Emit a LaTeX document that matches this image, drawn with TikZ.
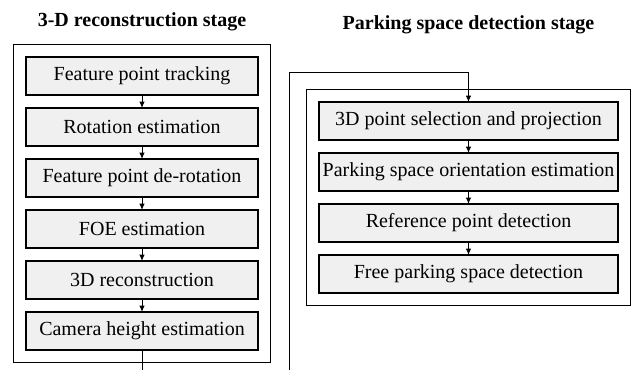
\documentclass[tikz,border=0pt]{standalone}
\usepackage{fontspec}
\setmainfont{Liberation Serif}
\usetikzlibrary{positioning, arrows.meta, fit}
\definecolor{CajaGris}{RGB}{240,240,240}

\begin{document}
\begin{tikzpicture}[
    x=1pt, y=-1pt,
    box/.style={draw, line width=1.2pt, fill=CajaGris, minimum height=38pt, inner sep=0pt, outer sep=0pt, font=\fontsize{20}{24}\selectfont},
    lbox/.style={box, minimum width=232pt},
    rbox/.style={box, minimum width=299pt},
    stage/.style={draw, line width=1.9pt, inner sep=12.5pt},
    titulo/.style={font=\bfseries\fontsize{20}{24}\selectfont},
    arr/.style={-{Latex[length=6.5pt,width=5.5pt]}, line width=1pt},
    node distance=13pt
]
    \useasboundingbox (0,0) rectangle (631,370);
    % titulos
    \node[titulo] (t3d) at (142,22) {3-D reconstruction stage};
    \node[titulo] (tpark) at (468.5,25) {Parking space detection stage};
    % etapa 3-D
    \node[lbox] (track) at (142,76) {Feature point tracking};
    \node[lbox, below=of track] (rot) {Rotation estimation};
    \node[lbox, below=of rot] (derot) {Feature point de-rotation};
    \node[lbox, below=of derot] (foe) {FOE estimation};
    \node[lbox, below=of foe] (recon) {3D reconstruction};
    \node[lbox, below=of recon] (cam) {Camera height estimation};
    \node[stage, fit=(track)(cam)] (etapa3d) {};
    % etapa de estacionamiento
    \node[rbox] (sel) at (468.5,121) {3D point selection and projection};
    \node[rbox, below=of sel] (orient) {Parking space orientation estimation};
    \node[rbox, below=of orient] (refp) {Reference point detection};
    \node[rbox, below=of refp] (free) {Free parking space detection};
    \node[stage, fit=(sel)(free)] (etapapark) {};
    % flechas
    \draw[arr] (track) -- (rot);
    \draw[arr] (rot) -- (derot);
    \draw[arr] (derot) -- (foe);
    \draw[arr] (foe) -- (recon);
    \draw[arr] (recon) -- (cam);
    \draw[arr] (sel) -- (orient);
    \draw[arr] (orient) -- (refp);
    \draw[arr] (refp) -- (free);
    % conexion entre etapas
    \coordinate (bajoizq) at (142,370);
    \coordinate (bajoder) at (289,370);
    \coordinate (codo) at (289,72.5);
    \draw[line width=1pt] (cam) -- (bajoizq);
    \draw[arr] (bajoder) -- (codo) -| (sel);
\end{tikzpicture}
\end{document}
